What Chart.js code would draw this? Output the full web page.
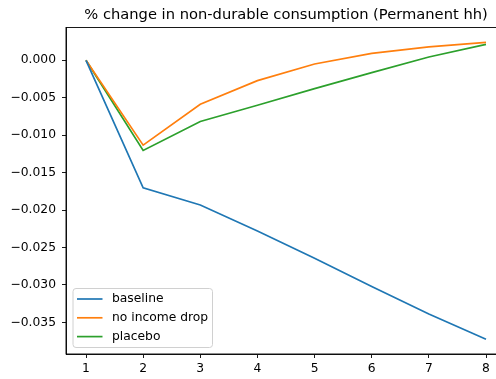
<!DOCTYPE html>
<html>
<head>
<meta charset="utf-8">
<script src="https://cdn.jsdelivr.net/npm/chart.js@4"></script>
<style>
  html, body { margin: 0; padding: 0; background: #fff; overflow: hidden; }
  #wrap { width: 496px; height: 379px; overflow: hidden; }
  canvas { display: block; }
</style>
</head>
<body>
<div id="wrap"><canvas id="c" width="520" height="379"></canvas></div>
<script>
// Periods after the shock
const periods = [1, 2, 3, 4, 5, 6, 7, 8];

// % change in non-durable consumption, permanent households
const baseline     = [0.0, -0.01702, -0.01933, -0.02280, -0.02644, -0.03022, -0.03387, -0.03724];
const noIncomeDrop = [0.0, -0.01133, -0.00587, -0.00271, -0.00049,  0.00093,  0.00178,  0.00240];
const placebo      = [0.0, -0.01204, -0.00818, -0.00600, -0.00378, -0.00164,  0.00044,  0.00213];

const seriesNames = ['baseline', 'no income drop', 'placebo'];
const seriesColors = ['#1f77b4', '#ff7f0e', '#2ca02c'];

const xTicks = [1, 2, 3, 4, 5, 6, 7, 8];
const yTicks = [0.000, -0.005, -0.010, -0.015, -0.020, -0.025, -0.030, -0.035];

const titleText = '% change in non-durable consumption (Permanent hh)';
const FONT = "'DejaVu Sans', sans-serif";
const TICK_SIZE = 12.3;

function toPoints(vals) {
  return vals.map((v, i) => ({ x: periods[i], y: v }));
}

// Frame, title and legend drawn in the style of a classic axes box
const framePlugin = {
  id: 'frame',
  afterDraw(chart) {
    const { ctx, chartArea: a } = chart;
    ctx.save();
    ctx.strokeStyle = '#000';
    ctx.lineWidth = 0.9;
    ctx.strokeRect(a.left, a.top, a.right - a.left, a.bottom - a.top);

    // title
    ctx.fillStyle = '#000';
    ctx.font = '14.7px ' + FONT;
    ctx.textAlign = 'center';
    ctx.textBaseline = 'alphabetic';
    ctx.fillText(titleText, (a.left + a.right) / 2, 19);

    // legend, lower left
    const bx = a.left + 7, by = a.bottom - 65.5, bw = 139.5, bh = 59;
    ctx.beginPath();
    const r = 3;
    ctx.moveTo(bx + r, by);
    ctx.lineTo(bx + bw - r, by);
    ctx.quadraticCurveTo(bx + bw, by, bx + bw, by + r);
    ctx.lineTo(bx + bw, by + bh - r);
    ctx.quadraticCurveTo(bx + bw, by + bh, bx + bw - r, by + bh);
    ctx.lineTo(bx + r, by + bh);
    ctx.quadraticCurveTo(bx, by + bh, bx, by + bh - r);
    ctx.lineTo(bx, by + r);
    ctx.quadraticCurveTo(bx, by, bx + r, by);
    ctx.closePath();
    ctx.fillStyle = 'rgba(255,255,255,0.8)';
    ctx.fill();
    ctx.strokeStyle = '#d0d0d0';
    ctx.lineWidth = 1;
    ctx.stroke();

    ctx.font = TICK_SIZE + 'px ' + FONT;
    ctx.textAlign = 'left';
    ctx.textBaseline = 'middle';
    chart.data.datasets.forEach((ds, i) => {
      const yy = by + 10.5 + i * 18.8;
      ctx.strokeStyle = ds.borderColor;
      ctx.lineWidth = 1.7;
      ctx.beginPath();
      ctx.moveTo(bx + 4, yy);
      ctx.lineTo(bx + 29.5, yy);
      ctx.stroke();
      ctx.fillStyle = '#000';
      ctx.fillText(ds.label, bx + 39, yy);
    });
    ctx.restore();
  }
};

new Chart(document.getElementById('c'), {
  type: 'line',
  data: {
    datasets: [baseline, noIncomeDrop, placebo].map((vals, i) => ({
      label: seriesNames[i],
      data: toPoints(vals),
      borderColor: seriesColors[i],
      backgroundColor: seriesColors[i],
      borderWidth: 1.7,
      pointRadius: 0,
      tension: 0,
      fill: false
    }))
  },
  options: {
    responsive: false,
    animation: false,
    devicePixelRatio: 1,
    layout: { padding: { top: 27.5, right: 14, bottom: 0, left: 0 } },
    plugins: {
      legend: { display: false },
      title: { display: false },
      tooltip: { enabled: false }
    },
    scales: {
      x: {
        type: 'linear',
        min: 0.65,
        max: 8.35,
        afterBuildTicks(scale) { scale.ticks = xTicks.map(v => ({ value: v })); },
        afterFit(scale) { scale.height = 25; },
        grid: { display: true, drawOnChartArea: false, drawTicks: true, tickLength: 4, color: '#000', tickWidth: 0.9 },
        border: { display: true, color: '#000', width: 0.9 },
        ticks: {
          color: '#000',
          font: { family: FONT, size: TICK_SIZE },
          padding: 3,
          maxRotation: 0,
          callback: v => String(v)
        }
      },
      y: {
        type: 'linear',
        min: -0.03922,
        max: 0.00438,
        afterBuildTicks(scale) { scale.ticks = yTicks.map(v => ({ value: v })); },
        afterFit(scale) { scale.width = 66; },
        grid: { display: true, drawOnChartArea: false, drawTicks: true, tickLength: 4, color: '#000', tickWidth: 0.9 },
        border: { display: true, color: '#000', width: 0.9 },
        ticks: {
          color: '#000',
          font: { family: FONT, size: TICK_SIZE },
          padding: 6,
          callback: v => (v < 0 ? '\u2212' : '') + Math.abs(v).toFixed(3)
        }
      }
    }
  },
  plugins: [framePlugin]
});
</script>
</body>
</html>
